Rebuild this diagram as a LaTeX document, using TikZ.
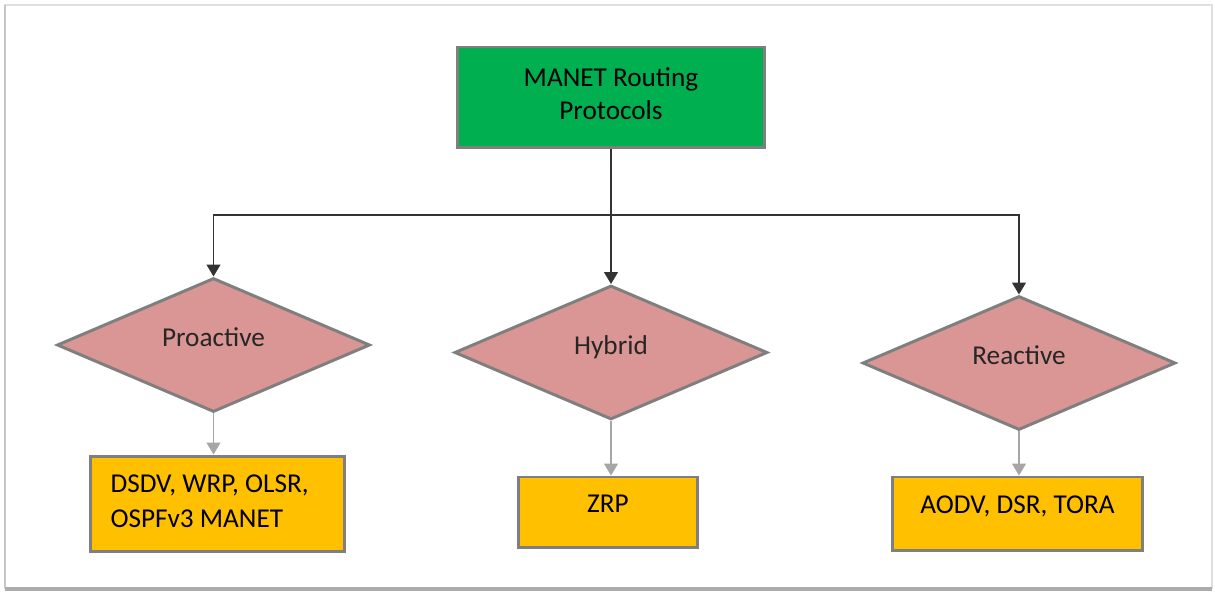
\documentclass[tikz,border=0pt]{standalone}
\usepackage{fontspec}
\setmainfont{Carlito}
\usetikzlibrary{shapes.geometric,arrows.meta}

\definecolor{rootgreen}{HTML}{00B050}
\definecolor{kindpink}{HTML}{D99694}
\definecolor{listorange}{HTML}{FFC000}
\definecolor{edgegray}{HTML}{7F7F7F}

\newcommand*{\pwidth}{1215}
\newcommand*{\pheight}{594}
\newcommand*{\splity}{215}

\begin{document}
\begin{tikzpicture}
[
	x=0.02cm,
	y=-0.02cm,
	font=\fontsize{15.5}{18.7}\selectfont,
	rootbox/.style={rectangle,draw=edgegray,line width=1.7pt,fill=rootgreen,align=center,minimum width=6.14cm,minimum height=2.02cm,text depth=0.16cm},
	kindbox/.style={diamond,draw=edgegray,line width=1.7pt,fill=kindpink,aspect=2.34,inner sep=0pt,minimum width=6.26cm,minimum height=2.68cm,text height=0.35cm,text depth=0.27cm,text=black!85},
	listbox/.style={rectangle,draw=edgegray,line width=1.7pt,fill=listorange},
	link/.style={black!80,line width=0.8pt},
	linkarrow/.style={link,-{Triangle[width=0.28cm,length=0.24cm]}},
	subarrow/.style={gray!70,line width=0.8pt,-{Triangle[width=0.28cm,length=0.24cm]}}
]

	% page and frame
	\fill[white] (0,0) rectangle (\pwidth,\pheight);
	\useasboundingbox (0,0) rectangle (\pwidth,\pheight);
	\draw[gray!25,line width=1pt] (5,5) rectangle (1212,588);
	\draw[gray!45,line width=1.5pt] (5,5) -- (5,588);
	\draw[gray!65,line width=2pt] (5,589) -- (1212,589);

	% root
	\node[rootbox] (root) at (611,97.5) {MANET Routing\\Protocols};

	% kinds
	\node[kindbox] (pro) at (213.5,345) {Proactive};
	\node[kindbox] (hyb) at (611,352.5) {Hybrid};
	\node[kindbox] (rea) at (1019,363) {Reactive};

	% protocol lists
	\node[listbox,minimum width=5.1cm,minimum height=1.92cm,align=flush left,text width=4.28cm,inner xsep=0.41cm,text height=0.35cm,text depth=0.8cm] (prolist) at (217.5,504) {DSDV, WRP, OLSR,\\[1pt]OSPFv3 MANET};
	\node[listbox,minimum width=3.6cm,minimum height=1.42cm,text height=0.4cm,text depth=0.4cm] (hyblist) at (608,512.5) {ZRP};
	\node[listbox,minimum width=5.02cm,minimum height=1.48cm,text height=0.4cm,text depth=0.4cm] (realist) at (1017.5,514) {AODV, DSR, TORA};

	% connectors
	\coordinate (split) at (611,\splity);
	\draw[link] (root.south) -- (split);
	\draw[linkarrow] (split) -| (pro.north);
	\draw[linkarrow] (split) -- (hyb.north);
	\draw[linkarrow] (split) -| (rea.north);

	\draw[subarrow] (pro.south) -- (pro.south |- prolist.north);
	\draw[subarrow] (hyb.south) -- (hyb.south |- hyblist.north);
	\draw[subarrow] (rea.south) -- (rea.south |- realist.north);

\end{tikzpicture}
\end{document}
